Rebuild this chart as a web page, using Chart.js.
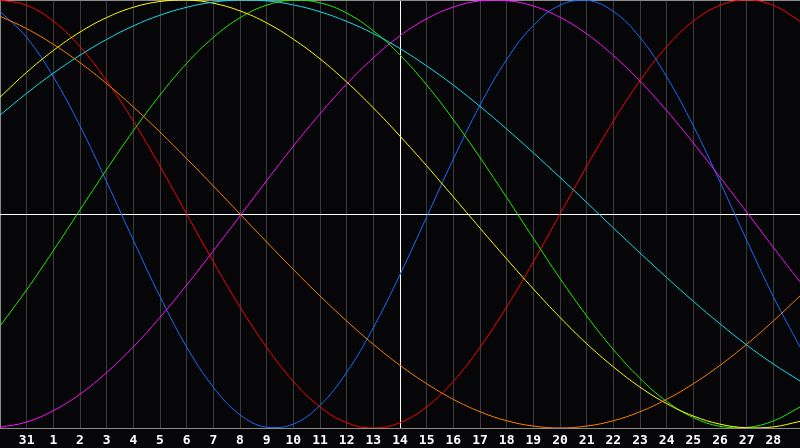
<!DOCTYPE html>
<html>
<head>
<meta charset="utf-8">
<script src="https://cdn.jsdelivr.net/npm/chart.js@4"></script>
<style>
  html, body { margin: 0; padding: 0; background: #060609; }
  #wrap { width: 800px; height: 448px; }
</style>
</head>
<body>
<div id="wrap"><canvas id="bioChart"></canvas></div>
<script>
// day labels along the bottom (first and last are not shown)
const days = ["30", "31", "1", "2", "3", "4", "5", "6", "7", "8", "9", "10", "11", "12", "13", "14",
  "15", "16", "17", "18", "19", "20", "21", "22", "23", "24", "25", "26", "27", "28", "29"];

// curve values in percent, one per day
const red     = [100, 97.5, 90.1, 78.2, 62.3, 43.4, 22.3, 0, -22.3, -43.4, -62.3, -78.2, -90.1, -97.5, -100, -97.5, -90.1, -78.2, -62.3, -43.4, -22.3, 0, 22.3, 43.4, 62.3, 78.2, 90.1, 97.5, 100, 97.5, 90.1];
const blue    = [94.7, 82.5, 64.1, 41.2, 15.0, -12.2, -38.6, -62.1, -80.9, -93.8, -99.7, -98.2, -89.4, -74.0, -53.1, -28.3, -1.4, 25.7, 50.8, 72.2, 88.1, 97.6, 99.9, 94.7, 82.5, 64.1, 41.2, 15.0, -12.2, -38.6, -62.1];
const green   = [-52.4, -35.4, -17.1, 1.9, 20.8, 38.9, 55.6, 70.4, 82.5, 91.7, 97.6, 100, 98.7, 93.9, 85.6, 74.3, 60.3, 44.1, 26.4, 7.7, -11.3, -30.1, -47.6, -63.3, -76.8, -87.6, -95.1, -99.2, -99.8, -96.7, -90.2];
const yellow  = [54.6, 66.2, 76.4, 85.0, 91.8, 96.6, 99.3, 100, 98.5, 94.9, 89.3, 81.7, 72.5, 61.7, 49.6, 36.4, 22.5, 8.0, -6.6, -21.0, -35.0, -48.3, -60.6, -71.4, -80.9, -88.6, -94.4, -98.2, -99.9, -99.5, -96.9];
const cyan    = [46.2, 56.4, 65.8, 74.2, 81.6, 87.9, 92.9, 96.6, 99.0, 100, 99.6, 97.7, 94.5, 90.0, 84.3, 77.3, 69.2, 60.2, 50.3, 39.7, 28.6, 17.1, 5.4, -6.5, -18.2, -29.7, -40.8, -51.3, -61.2, -70.1, -78.0];
const magenta = [-99.7, -97.2, -91.9, -84.2, -74.1, -62.1, -48.3, -33.2, -17.2, -0.9, 15.6, 31.7, 46.8, 60.7, 73.0, 83.3, 91.2, 96.7, 99.6, 99.7, 97.2, 91.9, 84.2, 74.1, 62.1, 48.3, 33.2, 17.2, 0.9, -15.6, -31.7];
const orange  = [92.4, 86.6, 79.3, 70.7, 60.9, 50, 38.3, 25.9, 13.1, 0, -13.1, -25.9, -38.3, -50, -60.9, -70.7, -79.3, -86.6, -92.4, -96.6, -99.1, -100, -99.1, -96.6, -92.4, -86.6, -79.3, -70.7, -60.9, -50, -38.3];

const todayIndex = 15; // "14"

const series = [
  { data: orange,  color: "#ff8000" },
  { data: cyan,    color: "#10e0e8" },
  { data: yellow,  color: "#ffff00" },
  { data: green,   color: "#22ee00" },
  { data: magenta, color: "#ff10ff" },
  { data: blue,    color: "#1a6cff" },
  { data: red,     color: "#ff0000" },
];

new Chart(document.getElementById("bioChart"), {
  type: "line",
  data: {
    labels: days,
    datasets: series.map(s => ({
      data: s.data,
      borderColor: s.color,
      borderWidth: 1,
      pointRadius: 0,
      fill: false,
      tension: 0.4,
    })),
  },
  options: {
    responsive: true,
    maintainAspectRatio: false,
    animation: false,
    layout: { padding: 0 },
    plugins: { legend: { display: false }, tooltip: { enabled: false } },
    scales: {
      x: {
        offset: false,
        afterFit: (scale) => {
          // plot runs edge to edge, labels strip is 20px
          scale.height = 20;
          scale.paddingLeft = 0;
          scale.paddingRight = 0;
        },
        grid: {
          drawTicks: false,
          offset: false,
          color: (ctx) => {
            if (ctx.index === todayIndex) return "#ffffff";
            if (ctx.index === 0 || ctx.index === days.length - 1) return "#8a8a8a";
            return "#3c3c3e";
          },
        },
        border: { display: true, color: "#8a8a8a" },
        ticks: {
          autoSkip: false,
          maxRotation: 0,
          padding: 5,
          color: "#ffffff",
          font: { family: "DejaVu Sans Mono", size: 13, weight: "bold" },
          callback: (val, i) => (i === 0 || i === days.length - 1 ? "" : days[i]),
        },
      },
      y: {
        min: -100,
        max: 100,
        afterFit: (scale) => { scale.width = 0; },
        ticks: { display: false, stepSize: 100 },
        border: { display: false },
        grid: {
          drawTicks: false,
          color: (ctx) => (ctx.tick.value === 0 ? "#ffffff" : "#8a8a8a"),
        },
      },
    },
  },
});
</script>
</body>
</html>
